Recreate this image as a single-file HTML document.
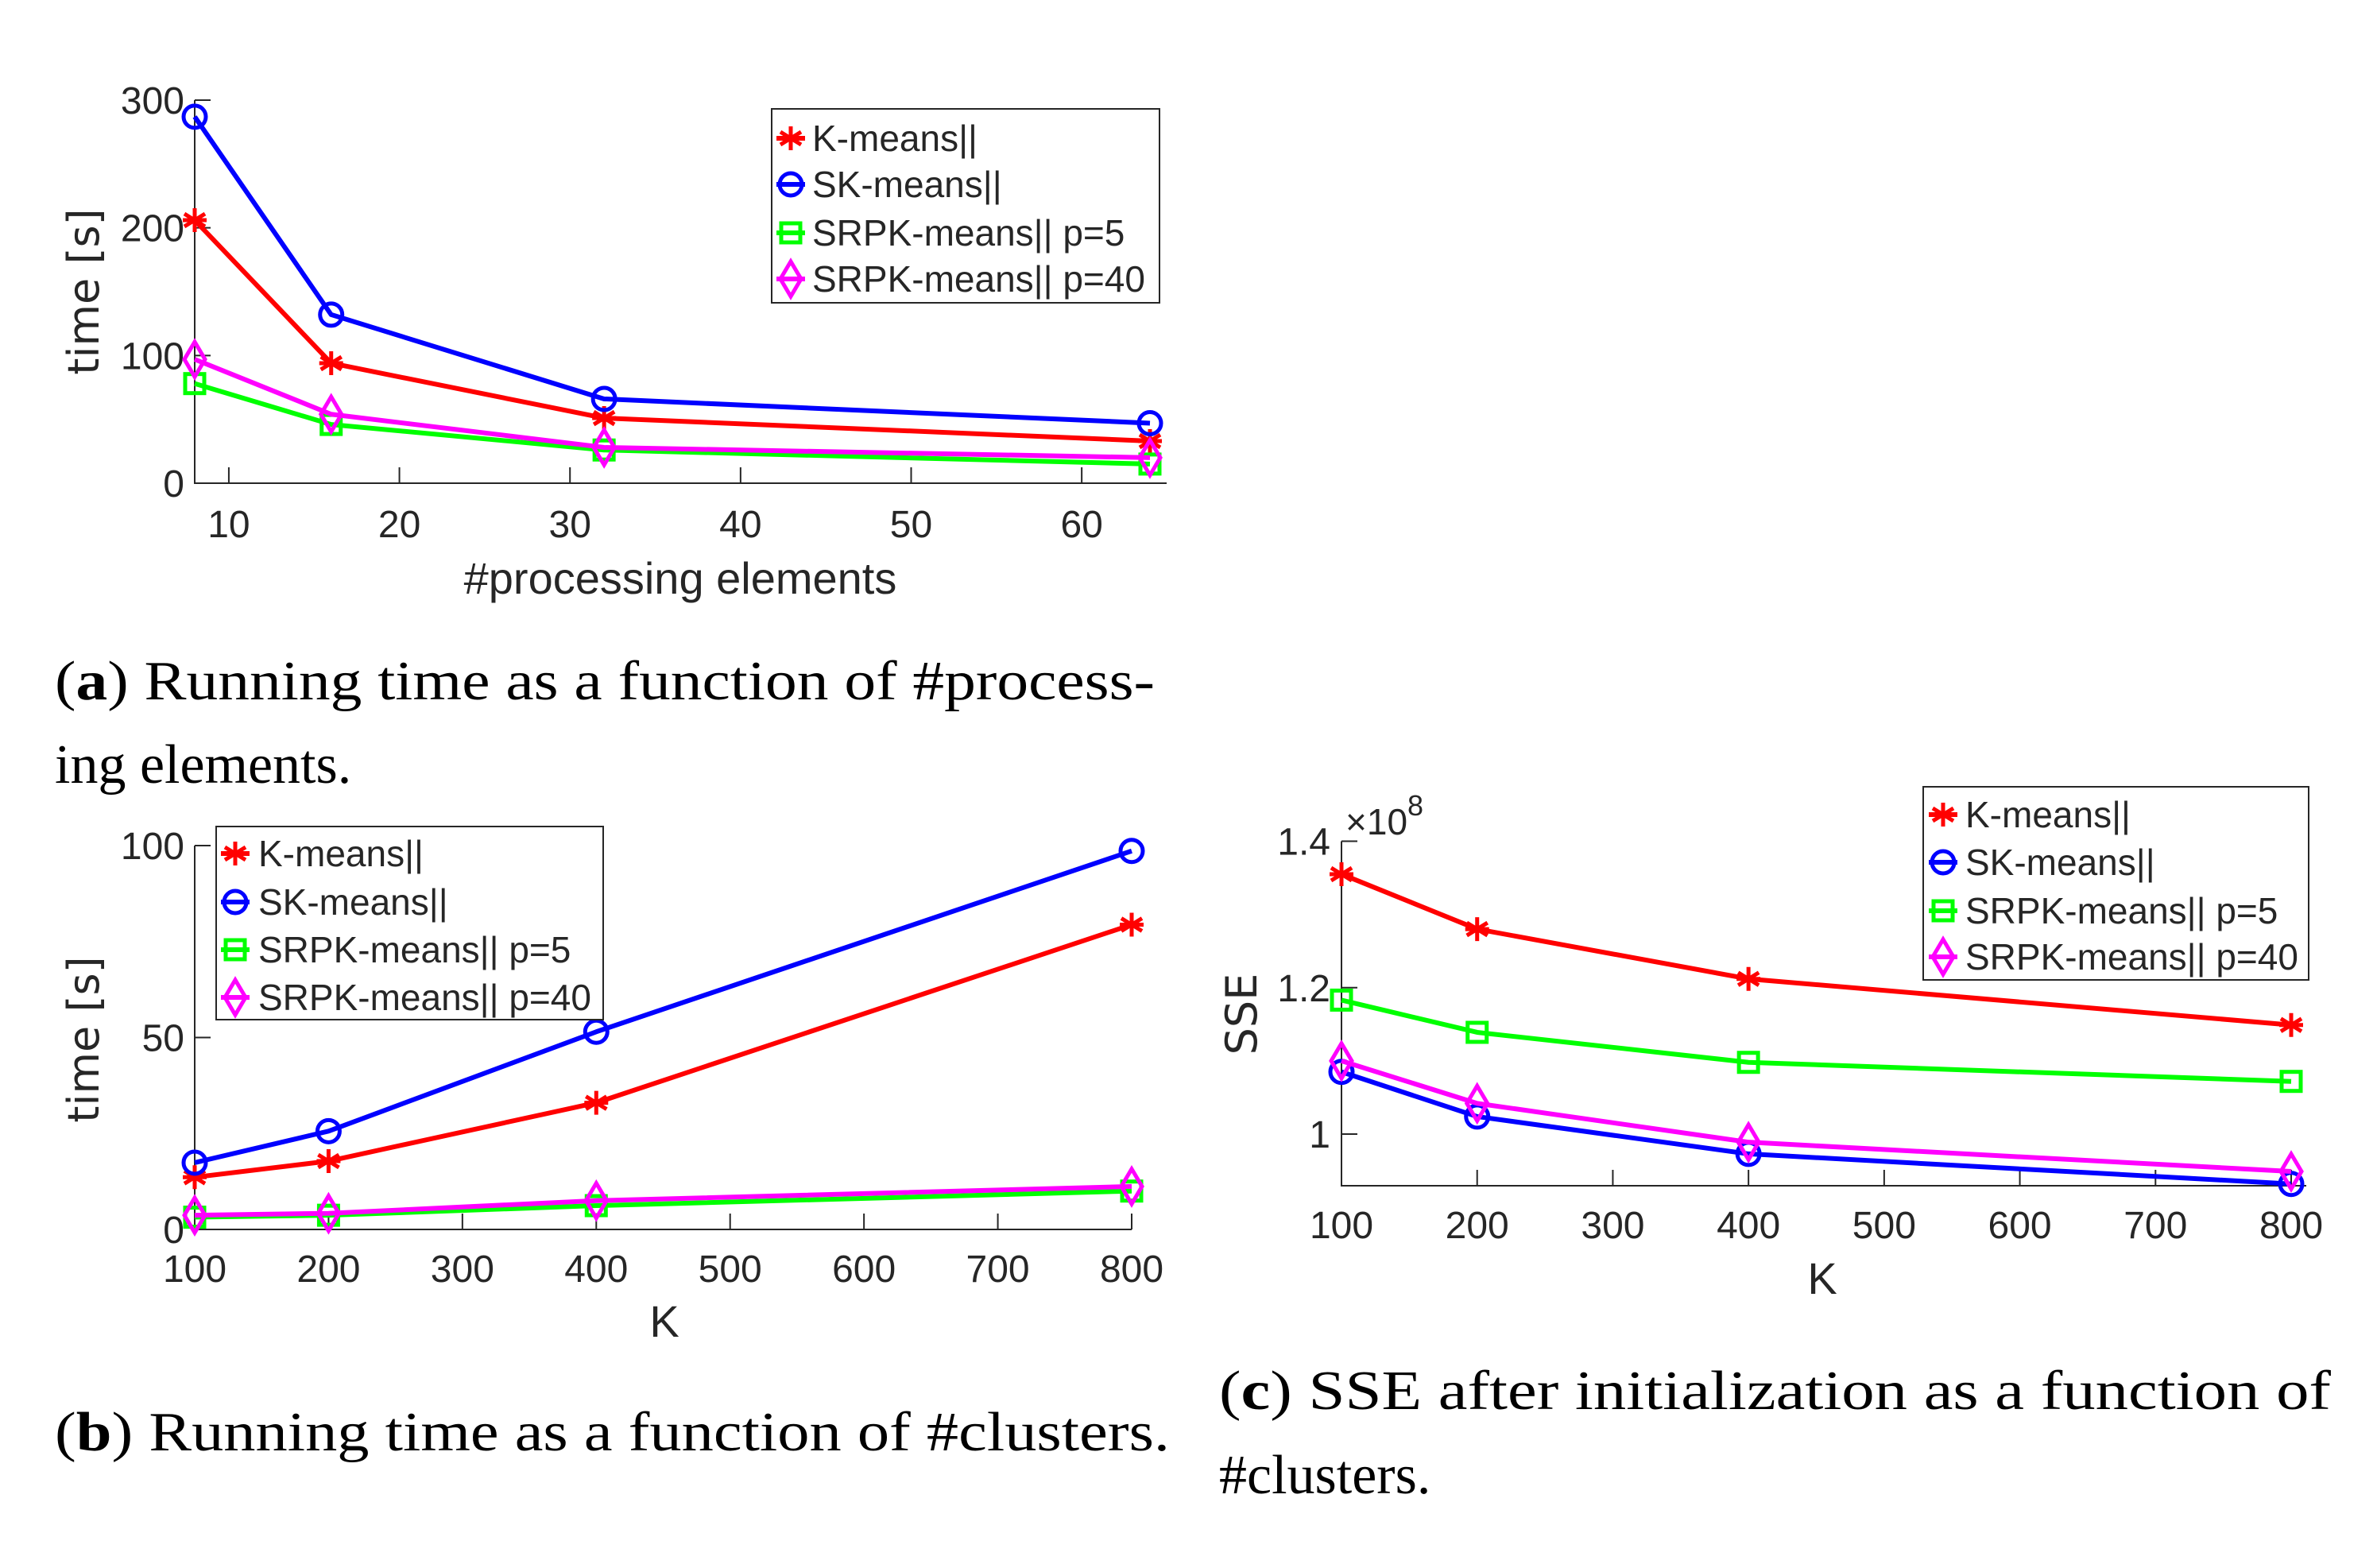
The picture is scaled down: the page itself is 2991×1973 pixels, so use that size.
<!DOCTYPE html>
<html><head><meta charset="utf-8"><style>
html,body{margin:0;padding:0;background:#fff}
svg{display:block}
text{font-family:"Liberation Sans",sans-serif;fill:#262626}
.cap{font-family:"Liberation Serif",serif;fill:#000;font-size:70px}
</style></head><body>
<svg id="fig" width="2991" height="1973" viewBox="0 0 2991 1973" xmlns="http://www.w3.org/2000/svg">
<text class="cap" x="69" y="880" textLength="1384" lengthAdjust="spacingAndGlyphs">(<tspan font-weight="bold">a</tspan>) Running time as a function of #process-</text>
<text class="cap" x="69" y="985">ing elements.</text>
<text class="cap" x="69" y="1825" textLength="1403" lengthAdjust="spacingAndGlyphs">(<tspan font-weight="bold">b</tspan>) Running time as a function of #clusters.</text>
<text class="cap" x="1534" y="1773" textLength="1399" lengthAdjust="spacingAndGlyphs">(<tspan font-weight="bold">c</tspan>) SSE after initialization as a function of</text>
<text class="cap" x="1534" y="1879">#clusters.</text>
</svg>
<script>
const seriesNames = ["K-means||","SK-means||","SRPK-means|| p=5","SRPK-means|| p=40"];
const seriesColors = ["#ff0000","#0000ff","#00ff00","#ff00ff"];
const markers = ["star","circle","square","diamond"];

const aX = [8,16,32,64];
const aK = [206,94,51,33];
const aSK = [287,132,66,47];
const aP5 = [78,46,26,15];
const aP40 = [97,54,28,20];
const aXTicks = [10,20,30,40,50,60];
const aYTicks = [0,100,200,300];

const bX = [100,200,400,800];
const bK = [13.6,17.8,33,79.4];
const bSK = [17.4,25.6,51.5,98.6];
const bP5 = [3.2,3.7,6.2,10];
const bP40 = [3.7,4.2,7.5,11.2];
const bXTicks = [100,200,300,400,500,600,700,800];
const bYTicks = [0,50,100];

const cX = [100,200,400,800];
const cK = [1.355,1.28,1.212,1.149];
const cSK = [1.085,1.024,0.973,0.932];
const cP5 = [1.183,1.139,1.098,1.072];
const cP40 = [1.100,1.042,0.989,0.949];
const cXTicks = [100,200,300,400,500,600,700,800];
const cYTicks = [1,1.2,1.4];
const cYTickLabels = ["1","1.2","1.4"];

const NS="http://www.w3.org/2000/svg";
const svg=document.getElementById('fig');
function mk(tag,attrs,parent){const e=document.createElementNS(NS,tag);for(const k in attrs)e.setAttribute(k,attrs[k]);(parent||svg).appendChild(e);return e;}

function marker(g,type,x,y,col){
  let e;
  if(type==="circle"){e=mk('circle',{cx:x,cy:y,r:14,fill:'none',stroke:col,'stroke-width':5},g);}
  else if(type==="square"){e=mk('rect',{x:x-12,y:y-12,width:24,height:24,fill:'none',stroke:col,'stroke-width':5},g);}
  else if(type==="diamond"){e=mk('polygon',{points:`${x},${y-22} ${x+13},${y} ${x},${y+22} ${x-13},${y}`,fill:'none',stroke:col,'stroke-width':5},g);}
  else {e=mk('path',{d:`M${x} ${y-15}V${y+15}M${x-13} ${y-8}L${x+13} ${y+8}M${x-13} ${y+8}L${x+13} ${y-8}M${x-15} ${y}H${x+15}`,stroke:col,'stroke-width':5,fill:'none'},g);}
  return e;
}

function chart(o){
  const g=mk('g',{});
  
  
  const sx=v=>o.x0+(v-o.xmin)/(o.xmax-o.xmin)*(o.x1-o.x0);
  const sy=v=>o.y0-(v-o.ymin)/(o.ymax-o.ymin)*(o.y0-o.y1);
  const ax=mk('path',{d:`M${o.x0} ${o.y1}V${o.y0}H${o.xEnd}`,stroke:'#262626','stroke-width':2,fill:'none'},g);
  
  
  o.xTicks.forEach(t=>{
    const X=sx(t);
    mk('line',{x1:X,x2:X,y1:o.y0,y2:o.y0-20,stroke:'#262626','stroke-width':2},g);
    const tx=mk('text',{x:X,y:o.xLabY,'text-anchor':'middle','font-size':48},g);
    tx.textContent=String(t);
    
    
  });
  o.yTicks.forEach((t,i)=>{
    const Y=sy(t);
    mk('line',{x1:o.x0,x2:o.x0+20,y1:Y,y2:Y,stroke:'#262626','stroke-width':2},g);
    const tx=mk('text',{x:o.yLabX,y:Y+17,'text-anchor':'end','font-size':48},g);
    tx.textContent=o.yTickLabels?o.yTickLabels[i]:String(t);
    
    
  });
  const xl=mk('text',{x:o.xTitle[0],y:o.xTitle[1],'text-anchor':'middle','font-size':56},g);
  xl.textContent=o.xTitleText;
  
  
  const yl=mk('text',{x:0,y:0,'text-anchor':'middle','font-size':54,transform:`translate(${o.yTitle[0]},${o.yTitle[1]}) rotate(-90)`,style:'font-family:"DejaVu Sans",sans-serif'},g);
  yl.textContent=o.yTitleText;
  
  
  if(o.exp){
    const ex=mk('text',{x:o.exp[0],y:o.exp[1],'font-size':46},g);
    ex.textContent='×10';
    
    
    const ts=mk('tspan',{dy:-24,'font-size':36},ex);ts.textContent='8';
  }
  o.series.forEach((vals,si)=>{
    const sg=mk('g',{},g);
    
    
    const pts=o.xs.map((x,i)=>sx(x)+','+sy(vals[i])).join(' ');
    mk('polyline',{points:pts,fill:'none',stroke:seriesColors[si],'stroke-width':6,'stroke-linejoin':'round'},sg);
    o.xs.forEach((x,i)=>{
      const m=marker(sg,markers[si],sx(x),sy(vals[i]),seriesColors[si]);
      
      
    });
  });
  const L=o.legend;
  const lg=mk('g',{},g);
  
  
  mk('rect',{x:L.x,y:L.y,width:L.w,height:L.h,fill:'#fff',stroke:'#262626','stroke-width':2},lg);
  seriesNames.forEach((n,i)=>{
    const Y=L.ys[i];
    const le=mk('g',{},lg);
    
    
    mk('line',{x1:L.mx-18,x2:L.mx+18,y1:Y,y2:Y,stroke:seriesColors[i],'stroke-width':6},le);
    marker(le,markers[i],L.mx,Y,seriesColors[i]);
    const t=mk('text',{x:L.tx,y:Y+16,'font-size':46},le);
    t.textContent=n;
  });
}

chart({name:'chart-a-time-vs-pe',x0:245,x1:1447,xmin:8,xmax:64,xEnd:1468,y0:608,y1:126,ymin:0,ymax:300,
  xs:aX,series:[aK,aSK,aP5,aP40],xTicks:aXTicks,yTicks:aYTicks,xLabY:676,yLabX:232,
  xTitle:[856,747],xTitleText:'#processing elements',yTitle:[124,367],yTitleText:'time [s]',
  legend:{x:971,y:137,w:488,h:244,ys:[174,232,293,351],mx:995,tx:1022}});

chart({name:'chart-b-time-vs-k',x0:245,x1:1424,xmin:100,xmax:800,xEnd:1424,y0:1547,y1:1064,ymin:0,ymax:100,
  xs:bX,series:[bK,bSK,bP5,bP40],xTicks:bXTicks,yTicks:bYTicks,xLabY:1613,yLabX:232,
  xTitle:[836,1682],xTitleText:'K',yTitle:[124,1308],yTitleText:'time [s]',
  legend:{x:272,y:1040,w:487,h:243,ys:[1074,1135,1195,1255],mx:296,tx:325}});

chart({name:'chart-c-sse-vs-k',x0:1688,x1:2883,xmin:100,xmax:800,xEnd:2902,y0:1492,y1:1058.5,ymin:0.9295,ymax:1.4,
  xs:cX,series:[cK,cSK,cP5,cP40],xTicks:cXTicks,yTicks:cYTicks,yTickLabels:cYTickLabels,xLabY:1558,yLabX:1674,
  xTitle:[2293,1628],xTitleText:'K',yTitle:[1581,1276],yTitleText:'SSE',exp:[1693,1050],
  legend:{x:2420,y:990,w:485,h:243,ys:[1025,1085,1146,1204],mx:2445,tx:2473}});
</script>
</body></html>
